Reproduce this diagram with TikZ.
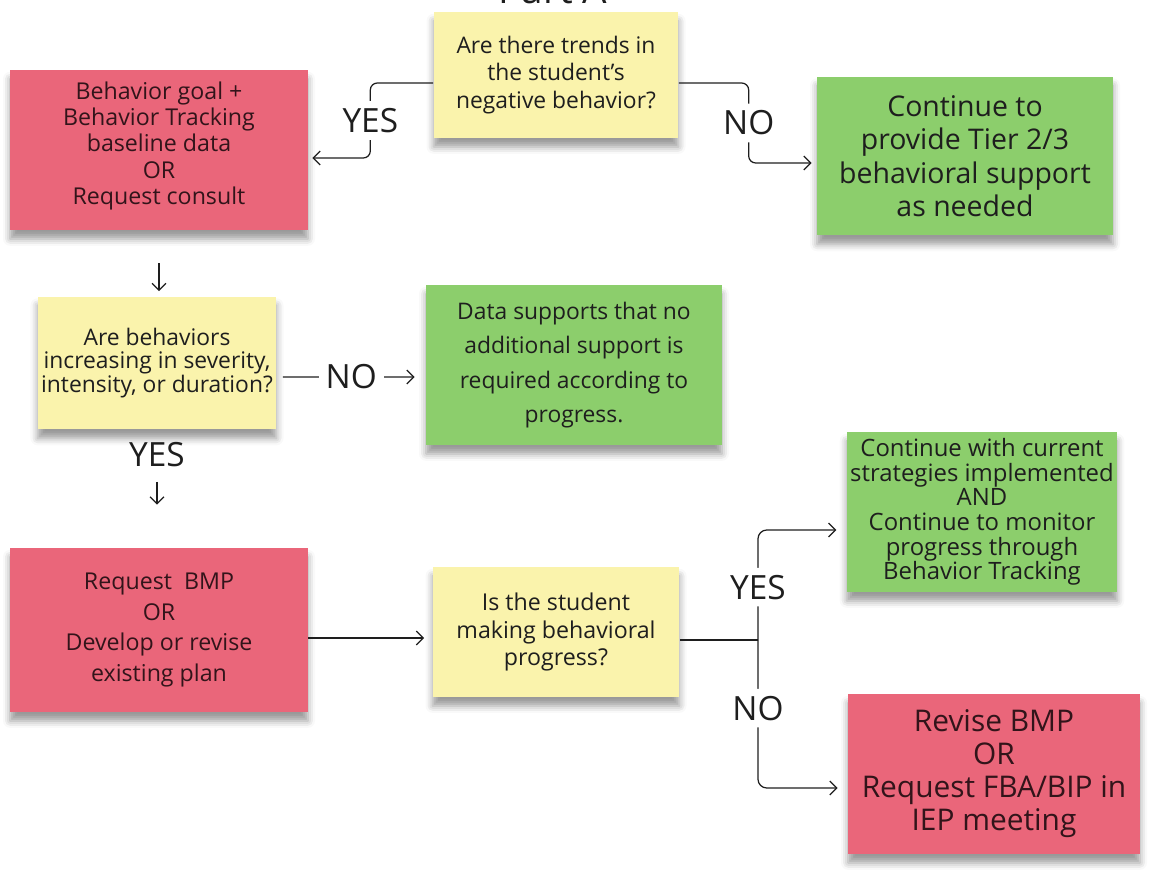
\documentclass[tikz,border=0pt]{standalone}
\usepackage{fontspec}
\setmainfont{Open Sans}
\usetikzlibrary{arrows.meta,positioning,shadows.blur}
\definecolor{stickyred}{RGB}{234,102,122}
\definecolor{stickygreen}{RGB}{140,206,108}
\definecolor{stickyyellow}{RGB}{250,243,172}
\definecolor{inkgray}{RGB}{30,30,30}
\definecolor{inkred}{RGB}{50,20,26}
\tikzset{
  sticky/.style={align=center, text=inkgray, inner sep=2pt, blur shadow={shadow xshift=0pt, shadow yshift=-5pt, shadow blur radius=4pt, shadow opacity=40}},
  question/.style={sticky, fill=stickyyellow},
  action/.style={sticky, fill=stickyred, text=inkred},
  outcome/.style={sticky, fill=stickygreen},
  link/.style={line width=0.7pt, inkgray},
  flow/.style={link, -{Straight Barb[length=1.4mm, width=2.8mm]}},
  answer/.style={fill=white, inner sep=4pt, text=inkgray, font=\fontsize{19}{22}\selectfont}
}

\begin{document}
\begin{tikzpicture}[x=0.02cm, y=-0.02cm]
  \useasboundingbox (0,0) rectangle (1169,869);
  \clip (0,0) rectangle (1169,869);
  \node[anchor=base, text=inkgray, font=\fontsize{22}{26}\selectfont] (part) at (553,3.5) {Part A};

  \node[question, minimum width=4.9cm, minimum height=2.52cm, font=\fontsize{13}{15.5}\selectfont] (trends) at (556,75) {Are there trends in\\the student's\\negative behavior?};
  \node[action, minimum width=5.96cm, minimum height=3.2cm, font=\fontsize{13.2}{15}\selectfont] (baseline) at (159,150) {Behavior goal +\\Behavior Tracking\\baseline data\\OR\\Request consult\\[-7pt]};
  \node[outcome, minimum width=5.92cm, minimum height=3.18cm, font=\fontsize{16.2}{19}\selectfont] (tiersupport) at (965,156) {Continue to\\provide Tier 2/3\\behavioral support\\as needed};
  \node[question, minimum width=4.78cm, minimum height=2.66cm, font=\fontsize{13}{13.6}\selectfont] (severity) at (157,363) {Are behaviors\\increasing in severity,\\intensity, or duration?};
  \node[outcome, minimum width=5.92cm, minimum height=3.2cm, font=\fontsize{13}{19.5}\selectfont] (nosupport) at (574,365) {Data supports that no\\additional support is\\required according to\\progress.};
  \node[action, minimum width=5.96cm, minimum height=3.28cm, font=\fontsize{13.2}{17.6}\selectfont] (bmp) at (159,630) {Request\ \ BMP\\OR\\Develop or revise\\existing plan};
  \node[question, minimum width=4.94cm, minimum height=2.6cm, font=\fontsize{13.2}{15.6}\selectfont] (progress) at (556,632) {Is the student\\making behavioral\\progress?};
  \node[outcome, minimum width=5.38cm, minimum height=3.2cm, font=\fontsize{13.6}{14}\selectfont] (monitor) at (982,512) {Continue with current\\strategies implemented\\AND\\Continue to monitor\\progress through\\Behavior Tracking};
  \node[action, minimum width=5.84cm, minimum height=3.2cm, font=\fontsize{17}{18.8}\selectfont] (revise) at (994,774) {Revise BMP\\OR\\Request FBA/BIP in\\IEP meeting};

  \draw[flow, rounded corners=4pt, shorten >=0.08cm] ([yshift=-0.16cm]trends.west) -| node[answer, pos=0.75] {YES} ([xshift=1.24cm, yshift=-0.16cm]baseline.east) -- ([yshift=-0.16cm]baseline.east);
  \draw[flow, rounded corners=4pt, shorten >=0.1cm] ([yshift=-0.16cm]trends.east) -| node[answer, pos=0.75] {NO} ([xshift=-1.36cm, yshift=-0.14cm]tiersupport.west) -- ([yshift=-0.14cm]tiersupport.west);

  \draw[flow, shorten <=0.66cm, shorten >=0.1cm] (baseline.south) -- (baseline.south |- severity.north);
  \draw[flow, shorten <=0.12cm, shorten >=0.22cm] ([yshift=-0.28cm]severity.east) -- node[answer] {NO} ([yshift=-0.24cm]nosupport.west);
  \draw[flow, shorten <=1.04cm, shorten >=0.86cm] (severity.south) -- node[answer, fill=none, pos=0.21] {YES} (severity.south |- bmp.north);

  \draw[flow, shorten >=0.16cm] ([yshift=-0.16cm]bmp.east) -- ([yshift=-0.16cm]bmp.east -| progress.west);
  \coordinate (split) at (758,640);
  \draw[link] (progress.east |- split) -- (split);
  \draw[flow, rounded corners=5pt, shorten >=0.2cm] (split) |- node[answer, pos=0.24] {YES} ([yshift=-0.36cm]monitor.west);
  \draw[flow, rounded corners=5pt, shorten >=0.2cm] (split) |- node[answer, pos=0.23] {NO} ([yshift=-0.28cm]revise.west);
\end{tikzpicture}
\end{document}
